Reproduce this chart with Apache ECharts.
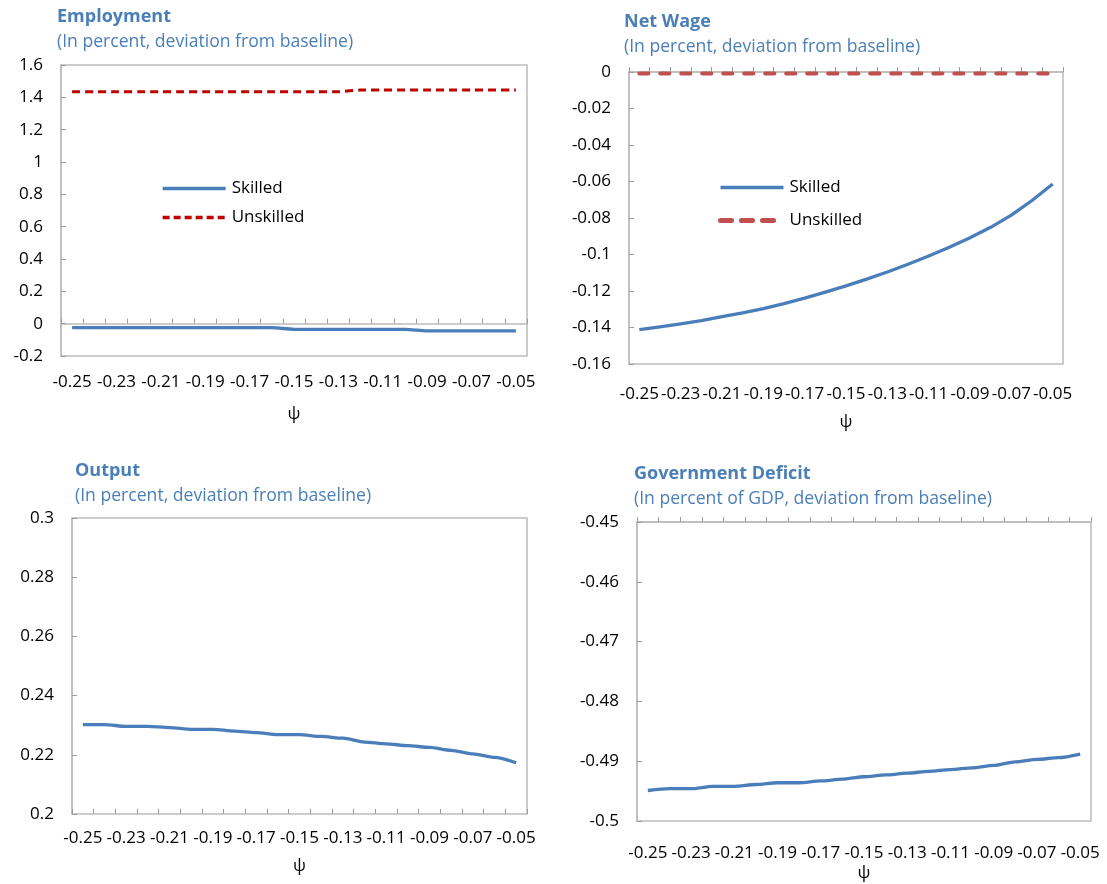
<!DOCTYPE html>
<html>
<head>
<meta charset="utf-8">
<script src="https://cdn.jsdelivr.net/npm/echarts@6/dist/echarts.min.js"></script>
<style>
html,body{margin:0;padding:0;background:#fff;}
#chart{width:1107px;height:884px;}
</style>
</head>
<body>
<div id="chart"></div>
<script>
// ---- data ----
const psi = ['-0.25','-0.24','-0.23','-0.22','-0.21','-0.20','-0.19','-0.18','-0.17','-0.16','-0.15',
             '-0.14','-0.13','-0.12','-0.11','-0.10','-0.09','-0.08','-0.07','-0.06','-0.05'];

const empSkilled   = [-0.025,-0.025,-0.025,-0.025,-0.025,-0.025,-0.025,-0.025,-0.025,-0.025,-0.035,
                      -0.035,-0.035,-0.035,-0.035,-0.035,-0.045,-0.045,-0.045,-0.045,-0.045];
const empUnskilled = [1.435,1.435,1.435,1.435,1.435,1.435,1.435,1.435,1.435,1.435,1.435,
                      1.435,1.435,1.445,1.445,1.445,1.445,1.445,1.445,1.445,1.445];

const wageSkilled   = [-0.1412,-0.1396,-0.1380,-0.1362,-0.1340,-0.1320,-0.1296,-0.1269,-0.1239,-0.1206,-0.1172,
                       -0.1135,-0.1096,-0.1053,-0.1008,-0.0960,-0.0908,-0.0851,-0.0784,-0.0704,-0.0614];
const wageUnskilled = [-0.0008,-0.0008,-0.0008,-0.0008,-0.0008,-0.0008,-0.0008,-0.0008,-0.0008,-0.0008,-0.0008,
                       -0.0008,-0.0008,-0.0008,-0.0008,-0.0008,-0.0008,-0.0008,-0.0008,-0.0008,-0.0008];

const output = [0.2302,0.2302,0.2296,0.2296,0.2292,0.2286,0.2286,0.2280,0.2275,0.2268,0.2268,
                0.2262,0.2256,0.2243,0.2237,0.2231,0.2225,0.2215,0.2203,0.2191,0.2173];

const deficit = [-0.4949,-0.4946,-0.4946,-0.4942,-0.4942,-0.4939,-0.4936,-0.4936,-0.4933,-0.4930,-0.4926,
                 -0.4923,-0.4920,-0.4917,-0.4914,-0.4911,-0.4907,-0.4901,-0.4897,-0.4894,-0.4888];

// y-axis tick settings per panel: [min, max, interval]
const yEmp  = [-0.2, 1.6, 0.2];
const yWage = [-0.16, 0, 0.02];
const yOut  = [0.2, 0.3, 0.02];
const yDef  = [-0.5, -0.45, 0.01];

const titles = ['Employment','Net Wage','Output','Government Deficit'];
const subtitles = ['(In percent, deviation from baseline)','(In percent, deviation from baseline)',
                   '(In percent, deviation from baseline)','(In percent of GDP, deviation from baseline)'];
const axisName = 'ψ';

// ---- styling ----
const FONT = '"Open Sans", "Noto Sans", sans-serif';
const BLUE = '#4a7ebb';
const TITLE_C = '#4a7fb8';
const BORDER = '#bcbcbc';
const TICK = '#9c9c9c';
const LW = 3.3;

const grids = [
  {left: 61,  top: 65,  width: 466, height: 291},
  {left: 629, top: 72,  width: 434, height: 292},
  {left: 72,  top: 518, width: 455, height: 296},
  {left: 637, top: 522, width: 454, height: 299}
].map(g => Object.assign({show: true, borderColor: BORDER, borderWidth: 1.5, backgroundColor: 'transparent', outerBoundsMode: 'none'}, g));

const titlePos = [[57, 7], [624, 12], [75, 461], [634, 464]];

function labelAxis(i, margin, nameGap, withTicks) {
  return {
    type: 'category', gridIndex: i, data: psi, boundaryGap: true, position: 'bottom',
    axisLine: {show: false, onZero: false},
    axisTick: {show: !!withTicks, interval: 0, inside: true, length: 5, lineStyle: {color: TICK, width: 1}},
    axisLabel: {interval: 1, margin: margin, fontSize: 17, color: '#000', fontFamily: FONT},
    splitLine: {show: false},
    name: axisName, nameLocation: 'middle', nameGap: nameGap,
    nameTextStyle: {fontSize: 17, color: '#000', fontFamily: FONT}
  };
}
function tickAxis(i, onZero) {
  return {
    type: 'category', gridIndex: i, data: psi, boundaryGap: true, position: 'top',
    axisLine: {show: true, onZero: onZero, lineStyle: {color: BORDER, width: 1.5}},
    axisTick: {show: true, interval: 0, inside: false, length: 5, lineStyle: {color: TICK, width: 1}},
    axisLabel: {show: false},
    splitLine: {show: false}
  };
}
function yAxis(i, cfg) {
  return {
    type: 'value', gridIndex: i, min: cfg[0], max: cfg[1], interval: cfg[2],
    axisLine: {show: true, onZero: false, lineStyle: {color: BORDER, width: 1.5}},
    axisTick: {show: true, inside: true, length: 5, lineStyle: {color: TICK, width: 1}},
    axisLabel: {margin: 18, fontSize: 17, color: '#000', fontFamily: FONT},
    splitLine: {show: false}
  };
}

const xAxes = [
  labelAxis(0, 18, 50),  // 0
  tickAxis(0, true),     // 1
  labelAxis(1, 22, 50),  // 2
  tickAxis(1, false),    // 3
  labelAxis(2, 16, 44, true), // 4
  labelAxis(3, 24, 44),  // 5
  tickAxis(3, false)     // 6
];

function line(name, xi, yi, data, color, width, type, cap, smooth) {
  return {
    type: 'line', name: name, xAxisIndex: xi, yAxisIndex: yi, data: data,
    symbol: 'none', smooth: smooth === undefined ? 0.25 : smooth, smoothMonotone: 'x', silent: true,
    lineStyle: {color: color, width: width, type: type || 'solid', cap: cap || 'butt', join: 'round'},
    itemStyle: {color: color}
  };
}

const legendCommon = {
  orient: 'vertical', padding: 0, itemWidth: 63, itemHeight: 14, selectedMode: false,
  itemStyle: {opacity: 0},
  textStyle: {fontSize: 17, color: '#000', fontFamily: FONT, padding: [0, 0, 0, 1]},
  formatter: n => n.trim()
};

const option = {
  animation: false,
  backgroundColor: '#fff',
  title: titles.map((t, i) => ({
    text: t, subtext: subtitles[i], left: titlePos[i][0], top: titlePos[i][1], padding: 0, itemGap: 5,
    textStyle: {fontSize: 18, fontWeight: 'bold', color: TITLE_C, fontFamily: FONT, lineHeight: 20},
    subtextStyle: {fontSize: 17.6, color: TITLE_C, fontFamily: FONT, lineHeight: 20}
  })),
  legend: [
    Object.assign({
      data: [
        {name: 'Skilled', lineStyle: {width: 3.3}},
        {name: 'Unskilled', lineStyle: {width: 3.3, type: [7, 4]}}
      ],
      left: 161, top: 180, itemGap: 12}, legendCommon),
    Object.assign({
      data: [
        {name: 'Skilled ', lineStyle: {width: 3.3}},
        {name: 'Unskilled ', lineStyle: {width: 5, type: [11, 10], cap: 'round'}}
      ],
      left: 718, top: 179, itemGap: 16}, legendCommon)
  ],
  grid: grids,
  xAxis: xAxes,
  yAxis: [yAxis(0, yEmp), yAxis(1, yWage), yAxis(2, yOut), yAxis(3, yDef)],
  series: [
    line('Skilled', 0, 0, empSkilled, BLUE, LW),
    line('Unskilled', 0, 0, empUnskilled, '#c00000', 3, [8, 5]),
    line('Skilled ', 2, 1, wageSkilled, BLUE, LW, 'solid', 'butt', false),
    line('Unskilled ', 2, 1, wageUnskilled, '#c0504d', 4, [9, 12], 'round'),
    line('Output', 4, 2, output, BLUE, LW),
    line('Government Deficit', 5, 3, deficit, BLUE, LW)
  ]
};

const chart = echarts.init(document.getElementById('chart'), null, {renderer: 'canvas'});
chart.setOption(option);
</script>
</body>
</html>
